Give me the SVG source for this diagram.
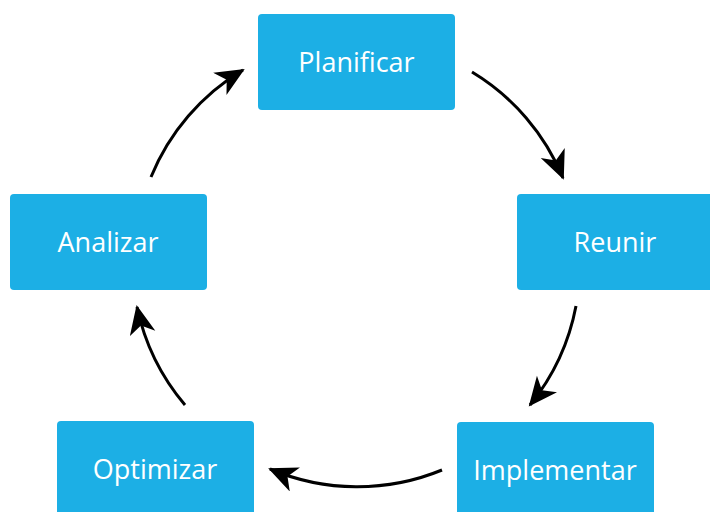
<svg xmlns="http://www.w3.org/2000/svg" width="710" height="512" viewBox="0 0 710 512">
  <style>
    .box { fill: #1cafe5; }
    .label { fill: #ffffff; font-family: "Open Sans", "Liberation Sans", sans-serif; font-size: 27px; text-anchor: middle; }
    .arc { fill: none; stroke: #000000; stroke-width: 3; marker-end: url(#head); }
  </style>
  <defs>
    <marker id="head" markerUnits="userSpaceOnUse" markerWidth="34" markerHeight="30" refX="27" refY="13" orient="auto">
      <path d="M29,13 L0,0 L8,13 L0,26 Z" fill="#000000"/>
    </marker>
  </defs>
  <rect width="710" height="512" fill="#ffffff"/>

  <!-- cycle arrows: arcs of one circle centred at (357,263), r=223 -->
  <g id="connectors">
    <path class="arc" d="M472,72 A223,223 0 0 1 563,178"/>
    <path class="arc" d="M576,306 A223,223 0 0 1 530,405"/>
    <path class="arc" d="M442,470 A223,223 0 0 1 270,469"/>
    <path class="arc" d="M185,405 A223,223 0 0 1 137,307"/>
    <path class="arc" d="M151,177 A223,223 0 0 1 243,70"/>
  </g>

  <g id="planificar">
    <rect class="box" x="258" y="14" width="197" height="96" rx="4"/>
    <text class="label" x="356.5" y="72">Planificar</text>
  </g>
  <g id="reunir">
    <rect class="box" x="517" y="194" width="197" height="96" rx="4"/>
    <text class="label" x="615" y="252">Reunir</text>
  </g>
  <g id="implementar">
    <rect class="box" x="457" y="422" width="197" height="96" rx="4"/>
    <text class="label" x="555" y="480">Implementar</text>
  </g>
  <g id="optimizar">
    <rect class="box" x="57" y="421" width="197" height="96" rx="4"/>
    <text class="label" x="155" y="479">Optimizar</text>
  </g>
  <g id="analizar">
    <rect class="box" x="10" y="194" width="197" height="96" rx="4"/>
    <text class="label" x="108" y="252">Analizar</text>
  </g>
</svg>
